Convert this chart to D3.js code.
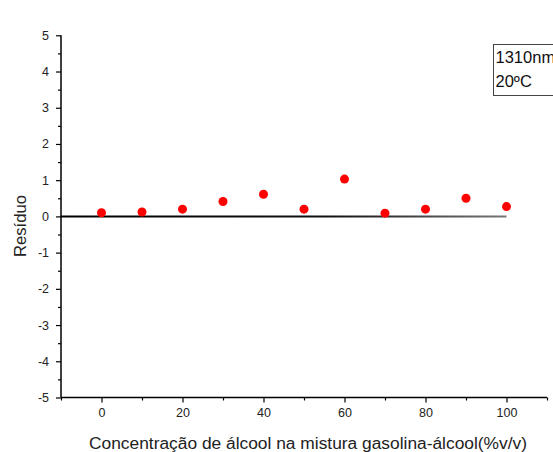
<!DOCTYPE html>
<html>
<head>
<meta charset="utf-8">
<script src="https://cdn.jsdelivr.net/npm/d3@7"></script>
<style>
  html, body { margin: 0; padding: 0; background: #fff; }
  svg { display: block; font-family: "Liberation Sans", Arial, sans-serif; }
</style>
</head>
<body>
<svg id="chart" width="553" height="452"></svg>
<script>
// Residuals of the fit versus alcohol concentration
const concentrations = [0, 10, 20, 30, 40, 50, 60, 70, 80, 90, 100];
const residuals = [0.10, 0.12, 0.20, 0.41, 0.61, 0.20, 1.03, 0.09, 0.20, 0.50, 0.27];
const xMajorTicks = [0, 20, 40, 60, 80, 100];
const xMinorTicks = [-10, 10, 30, 50, 70, 90, 110];
const yMajorTicks = [-5, -4, -3, -2, -1, 0, 1, 2, 3, 4, 5];
const yMinorTicks = [-4.5, -3.5, -2.5, -1.5, -0.5, 0.5, 1.5, 2.5, 3.5, 4.5];
const legendLines = ["1310nm", "20ºC"];

const svg = d3.select("#chart");
const x = d3.scaleLinear().domain([-10, 110]).range([61, 547]);
const y = d3.scaleLinear().domain([-5, 5]).range([397.5, 35.3]);

const axisColor = "#000";
const textColor = "#222";
const intFmt = d => String(d); // plain hyphen for negatives

// zero reference line, fading slightly toward the right end
const defs = svg.append("defs");
const grad = defs.append("linearGradient")
  .attr("id", "zeroFade").attr("gradientUnits", "userSpaceOnUse")
  .attr("x1", x(-10)).attr("x2", x(100)).attr("y1", 0).attr("y2", 0);
grad.append("stop").attr("offset", "0%").attr("stop-color", "#000");
grad.append("stop").attr("offset", "60%").attr("stop-color", "#111");
grad.append("stop").attr("offset", "80%").attr("stop-color", "#444");
grad.append("stop").attr("offset", "100%").attr("stop-color", "#777");
svg.append("line")
  .attr("x1", x(-10)).attr("x2", x(100))
  .attr("y1", y(0)).attr("y2", y(0))
  .attr("stroke", "url(#zeroFade)").attr("stroke-width", 2);

// x axis
const gx = svg.append("g").attr("transform", `translate(0,${y(-5)})`);
gx.call(d3.axisBottom(x).tickValues(xMajorTicks).tickSize(5).tickPadding(6).tickFormat(intFmt));
gx.append("g").call(d3.axisBottom(x).tickValues(xMinorTicks).tickSize(3).tickFormat(""))
  .select(".domain").remove();
gx.selectAll(".domain").attr("d", `M${x(-10)},0H${x(110)}`).attr("stroke", axisColor).attr("stroke-width", 1.5);
gx.selectAll(".tick line").attr("stroke", axisColor).attr("stroke-width", 1.2);
gx.selectAll(".tick text").attr("fill", textColor).attr("font-size", 12.5)
  .attr("font-family", "Liberation Sans, Arial, sans-serif");

// y axis
const gy = svg.append("g").attr("transform", `translate(${x(-10)},0)`);
gy.call(d3.axisLeft(y).tickValues(yMajorTicks).tickSize(5).tickPadding(7).tickFormat(intFmt));
gy.append("g").call(d3.axisLeft(y).tickValues(yMinorTicks).tickSize(3).tickFormat(""))
  .select(".domain").remove();
gy.selectAll(".domain").attr("d", `M0,${y(5)}V${y(-5)}`).attr("stroke", axisColor).attr("stroke-width", 1.5);
gy.selectAll(".tick line").attr("stroke", axisColor).attr("stroke-width", 1.2);
gy.selectAll(".tick text").attr("fill", textColor).attr("font-size", 12.5)
  .attr("font-family", "Liberation Sans, Arial, sans-serif");

// residual points
svg.append("g").selectAll("circle")
  .data(concentrations.map((c, i) => ({ c, r: residuals[i] })))
  .join("circle")
  .attr("cx", d => x(d.c))
  .attr("cy", d => y(d.r))
  .attr("r", 4.5)
  .attr("fill", "#ff0000");

// axis titles
svg.append("text")
  .attr("x", 89).attr("y", 449)
  .attr("textLength", 438).attr("lengthAdjust", "spacingAndGlyphs")
  .attr("font-size", 16).attr("fill", textColor)
  .text("Concentração de álcool na mistura gasolina-álcool(%v/v)");

svg.append("text")
  .attr("transform", `translate(26,257) rotate(-90)`)
  .attr("textLength", 62).attr("lengthAdjust", "spacingAndGlyphs")
  .attr("font-size", 16).attr("fill", textColor)
  .text("Resíduo");

// legend box
const lg = svg.append("g");
lg.append("rect")
  .attr("x", 493.5).attr("y", 44.5).attr("width", 80).attr("height", 51)
  .attr("fill", "#fff").attr("stroke", "#444").attr("stroke-width", 1);
lg.selectAll("text").data(legendLines).join("text")
  .attr("x", 495.5).attr("y", (d, i) => 63 + i * 24)
  .attr("font-size", 16.5).attr("fill", "#111")
  .text(d => d);
</script>
</body>
</html>
